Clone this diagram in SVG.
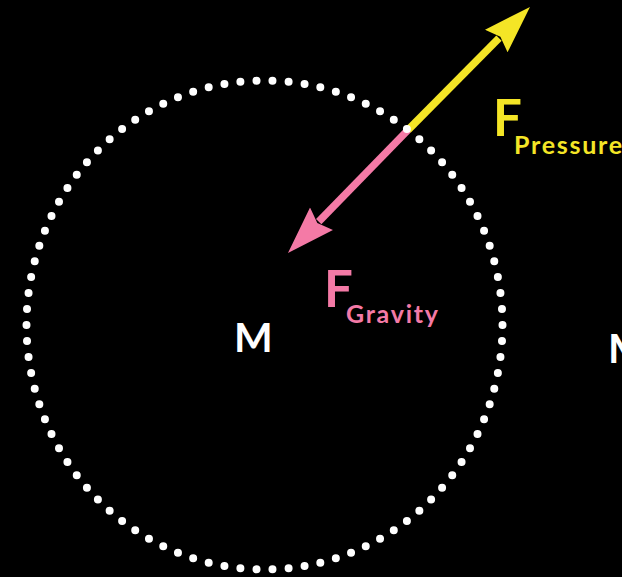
<svg xmlns="http://www.w3.org/2000/svg" width="622" height="577" viewBox="0 0 622 577">
  <defs>
    <style>
      .lbl { font-family: Lato, "Open Sans", "Liberation Sans", sans-serif; }
      .big { font-size: 51px; font-weight: 700; }
      .sub { font-size: 25px; font-weight: 700; }
      .mass { font-size: 41px; font-weight: 700; fill: #ffffff; }
      .yellow { fill: #f4e526; }
      .pink { fill: #f47aa6; }
      .shaft { stroke-width: 7.5; fill: none; }
    </style>
    <marker id="headY" viewBox="0 0 48 34" refX="4" refY="17" markerWidth="48" markerHeight="34" markerUnits="userSpaceOnUse" orient="auto">
      <path d="M0,1 L48,17 L0,33 L6,17 Z" fill="#f4e526"/>
    </marker>
    <marker id="headP" viewBox="0 0 48 34" refX="4" refY="17" markerWidth="48" markerHeight="34" markerUnits="userSpaceOnUse" orient="auto">
      <path d="M0,1 L48,17 L0,33 L6,17 Z" fill="#f47aa6"/>
    </marker>
  </defs>
  <rect width="622" height="577" fill="#000000"/>

  <g id="connectors">
    <line x1="408" y1="130" x2="499.0" y2="38.2" class="shaft" stroke="#f4e526" marker-end="url(#headY)"/>
    <line x1="408" y1="130" x2="318.7" y2="221.6" class="shaft" stroke="#f47aa6" marker-end="url(#headP)"/>
  </g>

  <g id="boundary">
    <ellipse cx="264.5" cy="325" rx="238" ry="244.5" fill="none" stroke="#ffffff" stroke-width="8" stroke-linecap="round" stroke-dasharray="0 1" pathLength="94"/>
  </g>

  <g id="label-pressure" class="lbl yellow">
    <text x="493" y="136" class="big">F</text>
    <text x="514" y="154" class="sub" textLength="108" lengthAdjust="spacing">Pressure</text>
  </g>

  <g id="label-gravity" class="lbl pink">
    <text x="324" y="307" class="big">F</text>
    <text x="346" y="323" class="sub" textLength="92" lengthAdjust="spacing">Gravity</text>
  </g>

  <g id="mass-inner">
    <text x="234" y="352" class="lbl mass">M</text>
  </g>

  <g id="mass-outer">
    <text x="608" y="363" class="lbl mass">M</text>
  </g>
</svg>
